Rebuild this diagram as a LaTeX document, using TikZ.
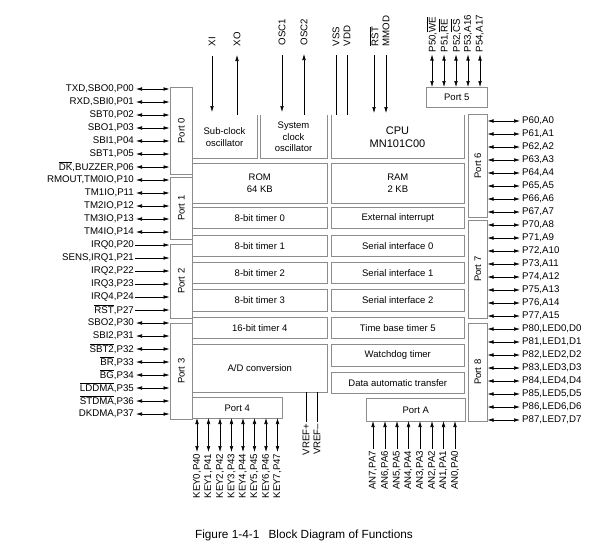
\documentclass[tikz,border=0pt]{standalone}
\usepackage{fontspec}
\usepackage{graphicx}
\setmainfont{Liberation Sans}
\usetikzlibrary{arrows.meta}
\newcommand\ovl[1]{$\overline{\mbox{#1}}$}
\begin{document}
\begin{tikzpicture}[x=1pt,y=-1pt,
  blk/.style={draw=black!45, line width=0.6pt, inner sep=0pt, anchor=north west, align=center,
              font=\fontsize{9.5}{11.5}\selectfont},
  pin/.style={font=\fontsize{9.7}{10}\selectfont, inner sep=1pt},
  vpin/.style={font=\fontsize{9.7}{10}\selectfont, inner sep=0.5pt, rotate=90},
  wire/.style={draw=black, line width=0.55pt},
  tip/.style={wire, -{Latex[length=6pt,width=3.6pt]}},
  bi/.style={wire, {Latex[length=6pt,width=3.6pt]}-{Latex[length=6pt,width=3.6pt]}},
]
\useasboundingbox (0,0) rectangle (607,557);

% ---------- left pins ----------
\foreach \i/\t in {0/{TXD,SBO0,P00},1/{RXD,SBI0,P01},2/{SBT0,P02},3/{SBO1,P03},4/{SBI1,P04},
  5/{SBT1,P05},6/{\ovl{DK},BUZZER,P06},7/{RMOUT,TM0IO,P10},8/{TM1IO,P11},9/{TM2IO,P12},
  10/{TM3IO,P13},11/{TM4IO,P14},12/{IRQ0,P20},13/{SENS,IRQ1,P21},14/{IRQ2,P22},15/{IRQ3,P23},
  16/{IRQ4,P24},17/{\ovl{RST},P27},18/{SBO2,P30},19/{SBI2,P31},20/{\ovl{SBT2},P32},
  21/{\ovl{BR},P33},22/{\ovl{BG},P34},23/{\ovl{LDDMA},P35},24/{\ovl{STDMA},P36},25/{DKDMA,P37}}{
  \node[pin, anchor=east] (L\i) at (135,{89+13*\i}) {\t};
  \coordinate (LE\i) at (169.5,{89+13*\i});
}
\foreach \i in {0,...,11,18,19,...,25} \draw[bi, shorten <=1pt] (L\i) -- (LE\i);
\foreach \i in {12,...,17} \draw[tip] (L\i) -- (LE\i);

% ---------- left port boxes ----------
\node[blk, minimum width=22pt, minimum height=87pt] (P0) at (170,87) {\rotatebox{90}{Port 0}};
\node[blk, minimum width=22pt, minimum height=62pt] (P1) at (170,177) {\rotatebox{90}{Port 1}};
\node[blk, minimum width=22pt, minimum height=74pt] (P2) at (170,244) {\rotatebox{90}{Port 2}};
\node[blk, minimum width=22pt, minimum height=96pt] (P3) at (170,323) {\rotatebox{90}{Port 3}};

% ---------- right pins ----------
\foreach \i/\t in {0/{P60,A0},1/{P61,A1},2/{P62,A2},3/{P63,A3},4/{P64,A4},5/{P65,A5},6/{P66,A6},
  7/{P67,A7},8/{P70,A8},9/{P71,A9},10/{P72,A10},11/{P73,A11},12/{P74,A12},13/{P75,A13},
  14/{P76,A14},15/{P77,A15},16/{P80,LED0,D0},17/{P81,LED1,D1},18/{P82,LED2,D2},19/{P83,LED3,D3},
  20/{P84,LED4,D4},21/{P85,LED5,D5},22/{P86,LED6,D6},23/{P87,LED7,D7}}{
  \node[pin, anchor=west] (R\i) at (521,{121+13*\i}) {\t};
  \coordinate (RE\i) at (487.5,{121+13*\i});
  \draw[bi, shorten >=1pt] (RE\i) -- (R\i);
}

% ---------- right port boxes ----------
\node[blk, minimum width=19pt, minimum height=103pt] (P6) at (468,114) {\rotatebox{90}{Port 6}};
\node[blk, minimum width=19pt, minimum height=98pt] (P7) at (468,220) {\rotatebox{90}{Port 7}};
\node[blk, minimum width=19pt, minimum height=98pt] (P8) at (468,323) {\rotatebox{90}{Port 8}};
\node[blk, minimum width=61pt, minimum height=20pt] (P5) at (426,87) {Port 5};

% ---------- port 5 pins ----------
\foreach \i/\x/\t in {0/432/{P50,\ovl{WE}},1/444/{P51,\ovl{RE}},2/456/{P52,\ovl{CS}},
  3/468/{P53,A16},4/480/{P54,A17}}{
  \node[vpin, anchor=west] (T5\i) at (\x,53) {\t};
  \coordinate (T5E\i) at (\x,87);
  \draw[bi, shorten <=1.5pt] (T5\i) -- (T5E\i);
}

% ---------- top signals ----------
\node[vpin, anchor=west] (XI) at (212,47) {XI};
\node[vpin, anchor=west] (XO) at (237,47) {XO};
\node[vpin, anchor=west] (OSCa) at (282,46) {OSC1};
\node[vpin, anchor=west] (OSCb) at (304,46) {OSC2};
\node[vpin, anchor=west] (VSS) at (336,47) {VSS};
\node[vpin, anchor=west] (VDD) at (347,47) {VDD};
\node[vpin, anchor=west] (RST) at (374,47) {\ovl{RST}};
\node[vpin, anchor=west] (MMOD) at (386,47) {MMOD};
\coordinate (XIe) at (212,112);
\coordinate (XOe) at (237,115);
\coordinate (OSCae) at (282,112);
\coordinate (OSCbe) at (304,115);
\coordinate (VSSe) at (336,115);
\coordinate (VDDe) at (347,115);
\coordinate (RSTe) at (374,113);
\coordinate (MMODe) at (386,113);
\draw[tip, shorten <=9pt] (XI) -- (XIe);
\draw[tip, shorten >=8pt] (XOe) -- (XO);
\draw[tip, shorten <=9pt] (OSCa) -- (OSCae);
\draw[tip, shorten >=8pt] (OSCbe) -- (OSCb);
\draw[wire, shorten <=8pt] (VSS) -- (VSSe);
\draw[wire, shorten <=8pt] (VDD) -- (VDDe);
\draw[tip, shorten <=8pt] (RST) -- (RSTe);
\draw[tip, shorten <=8pt] (MMOD) -- (MMODe);

% ---------- inner blocks (open at the top) ----------
\draw[draw=black!45, line width=0.6pt] (192,115) |- (257,158) -- (257,115);
\node[align=center, font=\fontsize{9.5}{11.5}\selectfont] (SUB) at (224.5,137) {Sub-clock\\oscillator};
\draw[draw=black!45, line width=0.6pt] (260,115) |- (327,158) -- (327,115);
\node[align=center, font=\fontsize{9.5}{11.5}\selectfont] (SYS) at (293.5,137) {System\\clock\\oscillator};
\draw[draw=black!45, line width=0.6pt] (331,115) |- (464,158) -- (464,115);
\node[align=center, font=\fontsize{11}{13}\selectfont] (CPU) at (397.5,137) {CPU\\MN101C00};

\node[blk, minimum width=135pt, minimum height=40pt] (ROM) at (192,163) {ROM\\64 KB};
\node[blk, minimum width=135pt, minimum height=21pt] (T0) at (192,207) {8-bit timer 0};
\node[blk, minimum width=135pt, minimum height=21pt] (T1) at (192,235) {8-bit timer 1};
\node[blk, minimum width=135pt, minimum height=21pt] (T2) at (192,262) {8-bit timer 2};
\node[blk, minimum width=135pt, minimum height=22pt] (T3) at (192,289) {8-bit timer 3};
\node[blk, minimum width=135pt, minimum height=21pt] (T4) at (192,317) {16-bit timer 4};
\node[blk, minimum width=135pt, minimum height=48pt] (AD) at (192,344) {A/D conversion};
\node[blk, minimum width=90pt, minimum height=21pt] (P4) at (192,397) {Port 4};

\node[blk, minimum width=133pt, minimum height=40pt] (RAM) at (331,163) {RAM\\2 KB};
\node[blk, minimum width=133pt, minimum height=21pt] (EXT) at (331,207) {External interrupt};
\node[blk, minimum width=133pt, minimum height=21pt] (S0) at (331,235) {Serial interface 0};
\node[blk, minimum width=133pt, minimum height=21pt] (S1) at (331,262) {Serial interface 1};
\node[blk, minimum width=133pt, minimum height=22pt] (S2) at (331,289) {Serial interface 2};
\node[blk, minimum width=133pt, minimum height=21pt] (TB) at (331,317) {Time base timer 5};
\node[blk, minimum width=133pt, minimum height=22pt] (WD) at (331,344) {Watchdog timer};
\node[blk, minimum width=133pt, minimum height=21pt] (DAT) at (331,372) {Data automatic transfer};
\node[blk, minimum width=99pt, minimum height=23pt] (PA) at (366,398) {Port A};

% ---------- VREF ----------
\node[vpin, anchor=east] (VRp) at (306,423) {VREF+};
\node[vpin, anchor=east] (VRm) at (317,423) {VREF–};
\coordinate (VRpe) at (306,392);
\coordinate (VRme) at (317,392);
\draw[wire, shorten >=1pt] (VRpe) -- (VRp);
\draw[wire, shorten >=1pt] (VRme) -- (VRm);

% ---------- port 4 pins ----------
\foreach \i/\x in {0/197,1/208.5,2/220,3/231.5,4/243,5/254.5,6/266,7/277.5}{
  \node[vpin, anchor=east] (K\i) at (\x,453) {KEY\i,P4\i};
  \coordinate (KE\i) at (\x,418);
  \draw[bi, shorten >=1pt] (KE\i) -- (K\i);
}

% ---------- port A pins ----------
\foreach \i/\x in {7/373,6/385,5/397,4/408.5,3/420,2/432,1/443.5,0/455}{
  \node[vpin, anchor=east] (AN\i) at (\x,450) {AN\i,PA\i};
  \coordinate (ANE\i) at (\x,421);
  \draw[tip, shorten <=1pt] (AN\i) -- (ANE\i);
}

% ---------- caption ----------
\node[font=\fontsize{11.8}{14}\selectfont] (CAP) at (304,535) {Figure 1-4-1\hspace{6pt} Block Diagram of Functions};
\end{tikzpicture}
\end{document}
